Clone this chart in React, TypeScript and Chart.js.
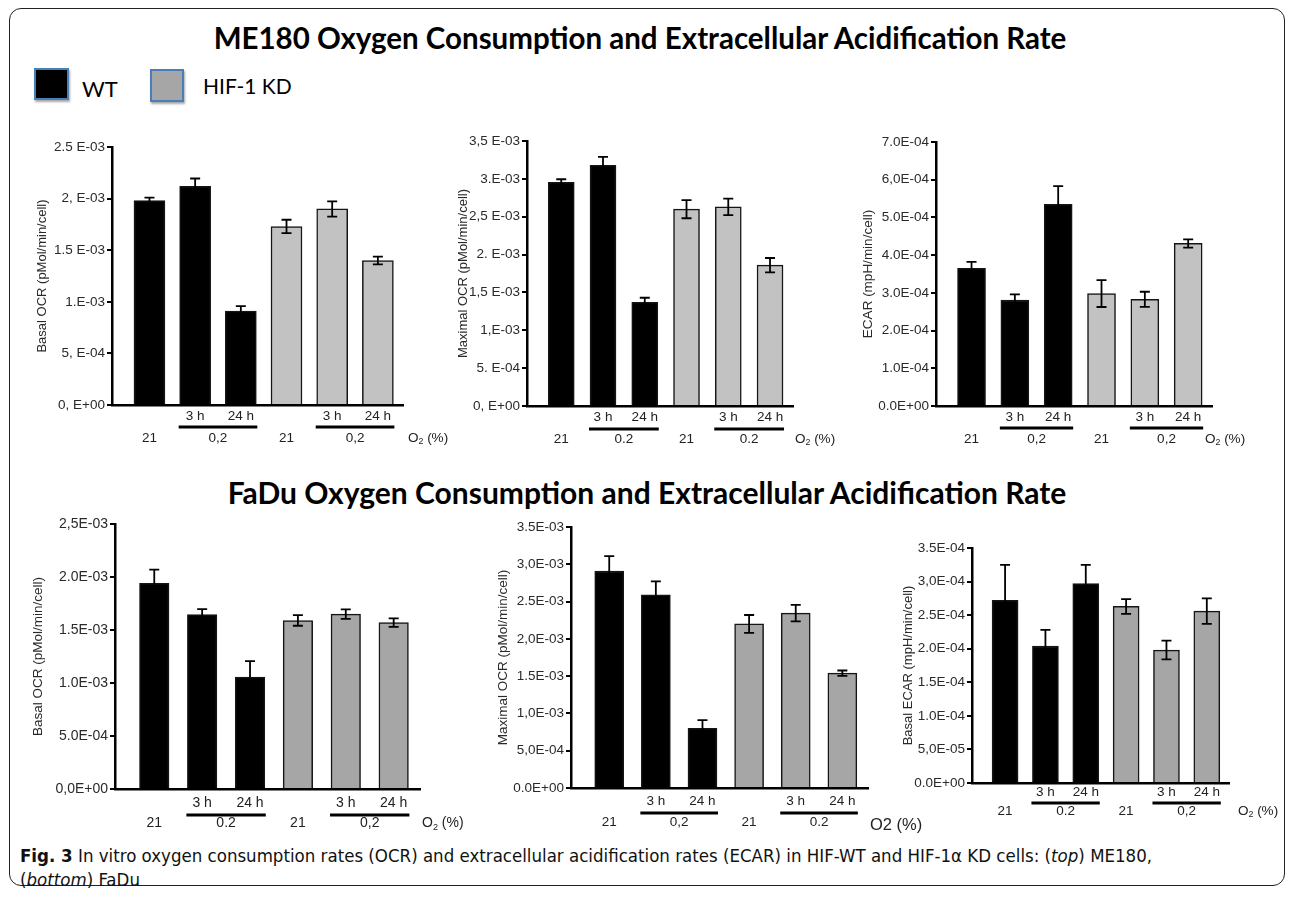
import React, { useEffect, useRef } from "react";
import { Chart, registerables } from "chart.js";

Chart.register(...registerables);

// ---------- shared categories ----------
const timePoints = ["", "3 h", "24 h", "", "3 h", "24 h"];
const cellLines = ["WT", "WT", "WT", "HIF-1 KD", "HIF-1 KD", "HIF-1 KD"];

// ---------- ME180 ----------
const me180BasalOcr = [1.98e-3, 2.12e-3, 0.91e-3, 1.73e-3, 1.9e-3, 1.4e-3];
const me180BasalOcrErr = [0.03e-3, 0.075e-3, 0.048e-3, 0.065e-3, 0.074e-3, 0.037e-3];
const me180BasalOcrTicks = ["0, E+00", "5, E-04", "1.E-03", "1.5 E-03", "2, E-03", "2.5 E-03"];
const me180BasalOcrO2 = ["21", "0,2", "21", "0,2"];

const me180MaxOcr = [2.955e-3, 3.18e-3, 1.37e-3, 2.6e-3, 2.63e-3, 1.86e-3];
const me180MaxOcrErr = [0.04e-3, 0.11e-3, 0.06e-3, 0.12e-3, 0.11e-3, 0.095e-3];
const me180MaxOcrTicks = ["0, E+00", "5. E-04", "1,E-03", "1,5 E-03", "2. E-03", "2,5 E-03", "3.E-03", "3,5 E-03"];
const me180MaxOcrO2 = ["21", "0.2", "21", "0.2"];

const me180Ecar = [3.65e-4, 2.81e-4, 5.35e-4, 2.98e-4, 2.83e-4, 4.31e-4];
const me180EcarErr = [0.17e-4, 0.15e-4, 0.48e-4, 0.355e-4, 0.2e-4, 0.11e-4];
const me180EcarTicks = ["0.0E+00", "1.0E-04", "2.0E-04", "3.0E-04", "4.0E-04", "5.0E-04", "6,0E-04", "7.0E-04"];
const me180EcarO2 = ["21", "0,2", "21", "0,2"];

// ---------- FaDu ----------
const faduBasalOcr = [1.94e-3, 1.646e-3, 1.056e-3, 1.59e-3, 1.65e-3, 1.57e-3];
const faduBasalOcrErr = [0.13e-3, 0.05e-3, 0.15e-3, 0.05e-3, 0.045e-3, 0.04e-3];
const faduBasalOcrTicks = ["0,0E+00", "5.0E-04", "1.0E-03", "1.5E-03", "2.0E-03", "2,5E-03"];
const faduBasalOcrO2 = ["21", "0.2", "21", "0,2"];

const faduMaxOcr = [2.91e-3, 2.59e-3, 0.8e-3, 2.2e-3, 2.345e-3, 1.54e-3];
const faduMaxOcrErr = [0.2e-3, 0.18e-3, 0.11e-3, 0.12e-3, 0.11e-3, 0.036e-3];
const faduMaxOcrTicks = ["0.0E+00", "5,0E-04", "1,0E-03", "1.5E-03", "2,0E-03", "2.5E-03", "3,0E-03", "3.5E-03"];
const faduMaxOcrO2 = ["21", "0,2", "21", "0.2"];

const faduEcar = [2.72e-4, 2.04e-4, 2.97e-4, 2.63e-4, 1.98e-4, 2.56e-4];
const faduEcarErr = [0.53e-4, 0.24e-4, 0.28e-4, 0.11e-4, 0.14e-4, 0.19e-4];
const faduEcarTicks = ["0.0E+00", "5,0E-05", "1.0E-04", "1.5E-04", "2.0E-04", "2.5E-04", "3,0E-04", "3.5E-04"];
const faduEcarO2 = ["21", "0.2", "21", "0,2"];

const FONT = "'Liberation Sans', Arial, Helvetica, sans-serif";

type PanelCfg = {
  values: number[];
  errors: number[];
  ticks: string[];
  o2: string[];
  unitSub: boolean;
  title: string;
  max: number;
  step: number;
  gray: string;
  cl: number; ct: number; cr: number; cb: number;
  axisX: number; plotTop: number; plotBottom: number; plotRight: number;
  titleX: number; barW: number;
  dyTime: number; dyLine: number; dyO2: number; unitDx: number;
  tickSize: number; titleSize: number;
};

const panels: PanelCfg[] = [
  {
    values: me180BasalOcr, errors: me180BasalOcrErr, ticks: me180BasalOcrTicks, o2: me180BasalOcrO2, unitSub: true,
    title: "Basal OCR (pMol/min/cell)", max: 2.5e-3, step: 5e-4, gray: "#c2c2c2",
    cl: 10, ct: 125, cr: 470, cb: 455, axisX: 112, plotTop: 147, plotBottom: 405, plotRight: 403,
    titleX: 42, barW: 31, dyTime: 11, dyLine: 22, dyO2: 33, unitDx: 5, tickSize: 13.5, titleSize: 13,
  },
  {
    values: me180MaxOcr, errors: me180MaxOcrErr, ticks: me180MaxOcrTicks, o2: me180MaxOcrO2, unitSub: true,
    title: "Maximal OCR (pMol/min/cell)", max: 3.5e-3, step: 5e-4, gray: "#c2c2c2",
    cl: 440, ct: 125, cr: 870, cb: 455, axisX: 527, plotTop: 141, plotBottom: 406, plotRight: 793,
    titleX: 463, barW: 26, dyTime: 11, dyLine: 23, dyO2: 33, unitDx: 2, tickSize: 13.5, titleSize: 13,
  },
  {
    values: me180Ecar, errors: me180EcarErr, ticks: me180EcarTicks, o2: me180EcarO2, unitSub: true,
    title: "ECAR (mpH/min/cell)", max: 7e-4, step: 1e-4, gray: "#c2c2c2",
    cl: 850, ct: 125, cr: 1282, cb: 455, axisX: 936, plotTop: 142, plotBottom: 406, plotRight: 1212,
    titleX: 868, barW: 28, dyTime: 11, dyLine: 22, dyO2: 33, unitDx: -7, tickSize: 13.5, titleSize: 13.5,
  },
  {
    values: faduBasalOcr, errors: faduBasalOcrErr, ticks: faduBasalOcrTicks, o2: faduBasalOcrO2, unitSub: true,
    title: "Basal OCR (pMol/min/cell)", max: 2.5e-3, step: 5e-4, gray: "#a6a6a6",
    cl: 10, ct: 505, cr: 470, cb: 840, axisX: 115, plotTop: 524, plotBottom: 789, plotRight: 420,
    titleX: 38, barW: 29.5, dyTime: 14, dyLine: 26, dyO2: 34, unitDx: 2, tickSize: 14, titleSize: 13.5,
  },
  {
    values: faduMaxOcr, errors: faduMaxOcrErr, ticks: faduMaxOcrTicks, o2: faduMaxOcrO2, unitSub: false,
    title: "Maximal OCR (pMol/min/cell)", max: 3.5e-3, step: 5e-4, gray: "#a6a6a6",
    cl: 480, ct: 505, cr: 930, cb: 840, axisX: 571, plotTop: 527, plotBottom: 788, plotRight: 868,
    titleX: 503, barW: 29, dyTime: 13.5, dyLine: 25, dyO2: 34.5, unitDx: 2, tickSize: 13.5, titleSize: 13.5,
  },
  {
    values: faduEcar, errors: faduEcarErr, ticks: faduEcarTicks, o2: faduEcarO2, unitSub: true,
    title: "Basal ECAR (mpH/min/cell)", max: 3.5e-4, step: 5e-5, gray: "#a6a6a6",
    cl: 885, ct: 505, cr: 1282, cb: 840, axisX: 972, plotTop: 548, plotBottom: 783, plotRight: 1229,
    titleX: 908, barW: 26, dyTime: 9, dyLine: 20, dyO2: 28, unitDx: 9, tickSize: 13.5, titleSize: 13,
  },
];

const annotationsPlugin = {
  id: "panelAnnotations",
  afterDatasetsDraw(chart: any, _args: any, opts: any) {
    const { ctx } = chart;
    const y = chart.scales.y;
    const bars = chart.getDatasetMeta(0).data as any[];
    ctx.save();
    ctx.strokeStyle = "#000";
    ctx.lineWidth = 1.8;
    const cap = 5;
    opts.errors.forEach((e: number, i: number) => {
      const v = opts.values[i];
      const cx = bars[i].x;
      const yt = y.getPixelForValue(v + e);
      const yb = y.getPixelForValue(v - e);
      ctx.beginPath();
      ctx.moveTo(cx, yt);
      ctx.lineTo(cx, yb);
      ctx.moveTo(cx - cap, yt);
      ctx.lineTo(cx + cap, yt);
      ctx.moveTo(cx - cap, yb);
      ctx.lineTo(cx + cap, yb);
      ctx.stroke();
    });
    ctx.restore();
  },
  afterDraw(chart: any, _args: any, opts: any) {
    const { ctx } = chart;
    const zero = chart.scales.y.getPixelForValue(0);
    const bars = chart.getDatasetMeta(0).data as any[];
    ctx.save();
    ctx.fillStyle = "#222";
    ctx.textAlign = "center";
    ctx.textBaseline = "middle";
    ctx.font = `${opts.fontSize}px ${FONT}`;
    timePoints.forEach((t, i) => {
      if (t) ctx.fillText(t, bars[i].x, zero + opts.dyTime);
    });
    const groupsStart = [0, 3];
    groupsStart.forEach((g, gi) => {
      const b1 = bars[g + 1];
      const b2 = bars[g + 2];
      const x1 = b1.x - b1.width / 2 - 1;
      const x2 = b2.x + b2.width / 2 + 1;
      ctx.fillStyle = "#000";
      ctx.fillRect(x1, zero + opts.dyLine - 1.5, x2 - x1, 3);
      ctx.fillStyle = "#222";
      ctx.fillText(opts.o2[gi * 2], bars[g].x, zero + opts.dyO2);
      ctx.fillText(opts.o2[gi * 2 + 1], (x1 + x2) / 2, zero + opts.dyO2);
    });
    const ux = chart.chartArea.right + opts.unitDx;
    const uy = zero + opts.dyO2;
    ctx.textAlign = "left";
    if (opts.unitSub) {
      ctx.fillText("O", ux, uy);
      const w = ctx.measureText("O").width;
      ctx.font = `${opts.fontSize * 0.65}px ${FONT}`;
      ctx.fillText("2", ux + w, uy + 4);
      const w2 = ctx.measureText("2").width;
      ctx.font = `${opts.fontSize}px ${FONT}`;
      ctx.fillText(" (%)", ux + w + w2, uy);
    } else {
      ctx.font = `${opts.fontSize + 3}px ${FONT}`;
      ctx.fillText("O2 (%)", ux, uy + 3);
    }
    ctx.restore();
  },
};

function Panel({ p }: { p: PanelCfg }) {
  const ref = useRef<HTMLCanvasElement>(null);
  const w = p.cr - p.cl;
  const h = p.cb - p.ct;
  useEffect(() => {
    if (!ref.current) return;
    const colors = cellLines.map((c) => (c === "WT" ? "#000000" : p.gray));
    const titleLine = p.titleSize * 1.2;
    const chart = new Chart(ref.current, {
      type: "bar",
      data: {
        datasets: [
          {
            data: p.values.map((v, i) => ({ x: i + 1, y: v })),
            backgroundColor: colors,
            borderColor: "#151515",
            borderWidth: 1.5,
            barThickness: p.barW,
          } as any,
        ],
      },
      options: {
        animation: false,
        responsive: false,
        devicePixelRatio: 1,
        events: [],
        layout: {
          padding: {
            left: 0,
            top: p.plotTop - p.ct,
            right: p.cr - p.plotRight,
            bottom: p.cb - p.plotBottom,
          },
        },
        plugins: {
          legend: { display: false },
          tooltip: { enabled: false },
          panelAnnotations: {
            values: p.values,
            errors: p.errors,
            o2: p.o2,
            unitSub: p.unitSub,
            dyTime: p.dyTime,
            dyLine: p.dyLine,
            dyO2: p.dyO2,
            unitDx: p.unitDx,
            fontSize: p.tickSize,
          },
        } as any,
        scales: {
          x: {
            type: "linear",
            min: 0.18,
            max: 6.55,
            offset: false,
            grid: { display: false, drawTicks: false },
            ticks: { display: false, stepSize: 1, includeBounds: false },
            border: { display: true, color: "#000", width: 2.5, z: 1 },
            afterFit: (s: any) => {
              s.height = 0;
            },
          },
          y: {
            type: "linear",
            min: 0,
            max: p.max,
            ticks: {
              stepSize: p.step,
              color: "#2a2a2a",
              padding: 2,
              font: { family: FONT, size: p.tickSize },
              callback: (v: any) => p.ticks[Math.round(Number(v) / p.step)] ?? "",
            },
            grid: {
              drawOnChartArea: false,
              drawTicks: true,
              tickLength: 5,
              color: "#000",
              lineWidth: 2,
            },
            border: { display: true, color: "#000", width: 2.5, z: 1 },
            title: {
              display: true,
              text: p.title,
              color: "#2a2a2a",
              font: { family: FONT, size: p.titleSize },
              padding: { top: p.titleX - p.cl - titleLine / 2, bottom: 0 },
            },
            afterFit: (s: any) => {
              s.width = p.axisX - p.cl;
            },
          },
        },
      } as any,
      plugins: [annotationsPlugin as any],
    });
    return () => chart.destroy();
  }, []);
  return (
    <canvas
      ref={ref}
      width={w}
      height={h}
      style={{ position: "absolute", left: p.cl, top: p.ct, width: w, height: h }}
    />
  );
}

export default function App() {
  const titleFont = "Lato, 'Open Sans', sans-serif";
  const capFont = "'Liberation Sans Narrow', 'DejaVu Sans Condensed', 'Liberation Sans', sans-serif";
  return (
    <div
      style={{
        position: "absolute",
        left: 0,
        top: 0,
        width: 1292,
        height: 902,
        background: "#fff",
        overflow: "hidden",
      }}
    >
      <div
        style={{
          position: "absolute",
          left: 9,
          top: 8,
          width: 1274,
          height: 876,
          border: "1.5px solid #222",
          borderRadius: 12,
        }}
      />
      <div
        style={{
          position: "absolute",
          left: 0,
          top: 19,
          width: 1280,
          textAlign: "center",
          fontFamily: titleFont,
          fontWeight: 700,
          fontSize: 29.5,
          lineHeight: "38px",
          color: "#000",
        }}
      >
        ME180 Oxygen Consumption and Extracellular Acidification Rate
      </div>
      <div
        style={{
          position: "absolute",
          left: 34,
          top: 68,
          width: 31,
          height: 28,
          background: "#000",
          border: "2px solid #4a7ebb",
          boxShadow: "1px 2px 2px rgba(0,0,0,0.35)",
        }}
      />
      <div
        style={{
          position: "absolute",
          left: 82,
          top: 75,
          fontFamily: titleFont,
          fontSize: 22,
          lineHeight: "28px",
          color: "#000",
        }}
      >
        WT
      </div>
      <div
        style={{
          position: "absolute",
          left: 150,
          top: 69,
          width: 30,
          height: 29,
          background: "#a6a6a6",
          border: "2px solid #4a7ebb",
          boxShadow: "1px 2px 2px rgba(0,0,0,0.35)",
        }}
      />
      <div
        style={{
          position: "absolute",
          left: 203,
          top: 72,
          fontFamily: titleFont,
          fontSize: 21,
          lineHeight: "28px",
          color: "#000",
        }}
      >
        HIF-1 KD
      </div>
      <div
        style={{
          position: "absolute",
          left: 0,
          top: 473,
          width: 1294,
          textAlign: "center",
          fontFamily: titleFont,
          fontWeight: 700,
          fontSize: 30,
          lineHeight: "38px",
          color: "#000",
        }}
      >
        FaDu Oxygen Consumption and Extracellular Acidification Rate
      </div>
      {panels.map((p, i) => (
        <Panel key={i} p={p} />
      ))}
      <div
        style={{
          position: "absolute",
          left: 20,
          top: 844,
          width: 1250,
          fontFamily: capFont,
          fontSize: 18.5,
          lineHeight: "24px",
          color: "#111",
        }}
      >
        <b>Fig. 3</b> In vitro oxygen consumption rates (OCR) and extracellular acidification rates (ECAR) in
        HIF-WT and HIF-1α KD cells: (<i>top</i>) ME180,
        <br />(<i>bottom</i>) FaDu
      </div>
    </div>
  );
}
